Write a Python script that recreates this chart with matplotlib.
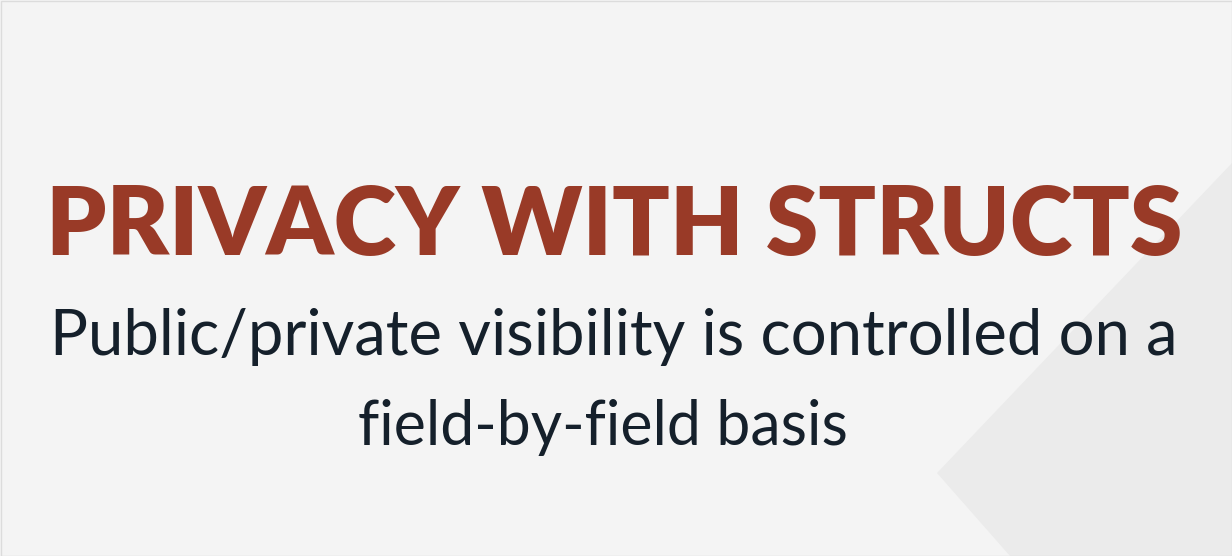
import matplotlib
matplotlib.use("Agg")
import matplotlib.pyplot as plt
from matplotlib.patches import Polygon, Rectangle

W, H = 1232, 556

title = "PRIVACY WITH STRUCTS"
subtitle_lines = ["Public/private visibility is controlled on a",
                  "field-by-field basis"]

# target spans in pixels: (left, right, baseline)
title_span = (45, 1183, 255)
subtitle_spans = [(50, 1178, 355), (358, 848, 445)]

BG = "#f4f4f4"
SHADE = "#ebebeb"
TITLE_COLOR = "#993a27"
TEXT_COLOR = "#15202b"

fig = plt.figure(figsize=(W / 100, H / 100), dpi=100, facecolor=BG)
ax = fig.add_axes([0, 0, 1, 1])
ax.set_xlim(0, W)
ax.set_ylim(H, 0)
ax.axis("off")

# faint diagonal shape at the lower right
ax.add_patch(Polygon([(937, 473), (1232, 163), (1232, 556), (1010, 556)],
                     closed=True, facecolor=SHADE, edgecolor="none", zorder=0))
ax.add_patch(Rectangle((0.5, 0.5), W - 1, H - 1, facecolor="none",
                       edgecolor="#dcdcdc", linewidth=1, zorder=5))


def fit_text(s, span, size, **kw):
    left, right, base = span
    t = ax.text((left + right) / 2, base, s, ha="center", va="baseline",
                fontsize=size, **kw)
    r = fig.canvas.get_renderer()
    w = t.get_window_extent(r).width
    t.set_fontsize(size * (right - left) / w)
    return t


fit_text(title, title_span, 70, family="Lato", fontweight="heavy",
         color=TITLE_COLOR)
for line, span in zip(subtitle_lines, subtitle_spans):
    fit_text(line, span, 38, family="Lato", color=TEXT_COLOR)

fig.savefig("out.png", dpi=100, facecolor=BG)
